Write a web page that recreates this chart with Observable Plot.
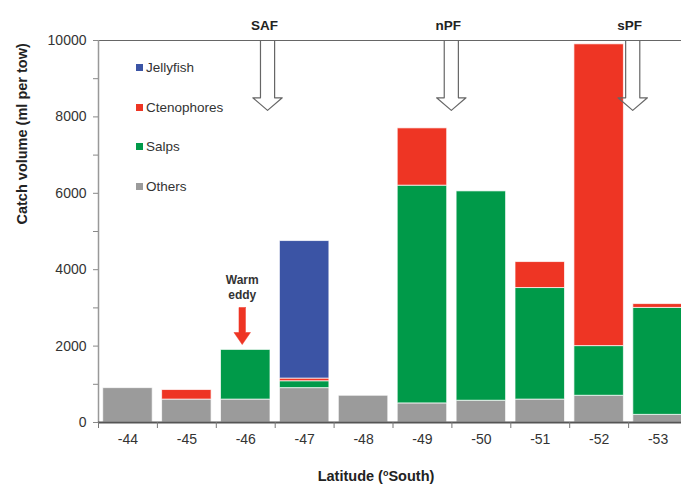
<!DOCTYPE html>
<html>
<head>
<meta charset="utf-8">
<script src="https://cdn.jsdelivr.net/npm/d3@7"></script>
<script src="https://cdn.jsdelivr.net/npm/@observablehq/plot@0.6"></script>
<style>
  html, body { margin: 0; padding: 0; background: #fff; overflow: hidden; }
  #wrap { position: relative; width: 681px; height: 485px; overflow: hidden; font-family: "Liberation Sans", Arial, sans-serif; }
  #wrap svg { max-width: none !important; }
  .leg { position: absolute; left: 136px; font-size: 13.5px; color: #333; line-height: 16px; white-space: nowrap; }
  .leg i { display: inline-block; width: 7px; height: 7px; margin-right: 3px; vertical-align: 1px; }
  #xlab { position: absolute; top: 468px; left: 0; width: 752px; text-align: center; font-weight: bold; font-size: 14.5px; color: #222; }
  #xlab sup { font-size: 9px; vertical-align: 5px; line-height: 0; }
</style>
</head>
<body>
<div id="wrap"></div>
<script>
// ---- data ----
const latitudes   = [-44, -45, -46, -47, -48, -49, -50, -51, -52, -53];
const others      = [900, 600, 600, 900, 700, 500, 570, 600, 700, 200];
const salps       = [0, 0, 1300, 180, 0, 5700, 5480, 2920, 1300, 2800];
const ctenophores = [0, 250, 0, 70, 0, 1500, 0, 680, 7900, 100];
const jellyfish   = [0, 0, 0, 3600, 0, 0, 0, 0, 0, 0];
const seriesNames = ["Others", "Salps", "Ctenophores", "Jellyfish"];
const seriesColors = ["#9b9b9b", "#009a49", "#ee3524", "#3b54a5"];
const legendOrder = ["Jellyfish", "Ctenophores", "Salps", "Others"];
const frontNames = ["SAF", "nPF", "sPF"];
const frontLats  = [-46.37, -49.49, -52.57];
const eddyLat = -45.94;
const yTicks = d3.range(0, 10001, 1000);

// ---- build stacked rows ----
const seriesValues = [others, salps, ctenophores, jellyfish];
const rows = [];
latitudes.forEach((lat, i) => {
  let base = 0;
  seriesValues.forEach((vals, s) => {
    const v = vals[i];
    if (v > 0) rows.push({lat, type: seriesNames[s], y1: base, y2: base + v});
    base += v;
  });
});
const edges = latitudes.map(l => l + 0.5).concat([latitudes[latitudes.length - 1] - 0.5]);

// arrow outlines (front markers) in data units
const frontArrows = [];
frontLats.forEach((lat, k) => {
  const sw = 0.12, hw = 0.25;
  [[lat - sw, 10000], [lat - sw, 8500], [lat - hw, 8500], [lat, 8170],
   [lat + hw, 8500], [lat + sw, 8500], [lat + sw, 10000]]
    .forEach(([x, y]) => frontArrows.push({k, x, y}));
});
const eddyArrow = [];
{
  const sw = 0.055, hw = 0.14, lat = eddyLat;
  [[lat - sw, 3010], [lat - sw, 2356], [lat - hw, 2356], [lat, 2040],
   [lat + hw, 2356], [lat + sw, 2356], [lat + sw, 3010], [lat - sw, 3010]]
    .forEach(([x, y]) => eddyArrow.push({x, y}));
}

const chart = Plot.plot({
  width: 687,
  height: 485,
  marginLeft: 98,
  marginRight: 0,
  marginTop: 40,
  marginBottom: 63,
  style: {fontFamily: "'Liberation Sans', Arial, sans-serif", fontSize: "14px", color: "#333", background: "white", maxWidth: "none"},
  x: {domain: [-43.5, -53.5], axis: null},
  y: {domain: [0, 10000], axis: null},
  color: {domain: seriesNames, range: seriesColors},
  marks: [
    Plot.rect(rows, {x1: d => d.lat + 0.42, x2: d => d.lat - 0.42, y1: "y1", y2: "y2", fill: "type",
      stroke: "#ffffff", strokeOpacity: 0.7, strokeWidth: 1}),
    Plot.ruleY([10000], {stroke: "#666", strokeWidth: 1.2}),
    Plot.ruleX([-43.5], {stroke: "#999", strokeWidth: 1.5}),
    Plot.ruleY([0], {stroke: "#555", strokeWidth: 1.8}),
    Plot.axisY({ticks: yTicks, tickSize: 5, tickPadding: 7, stroke: "#888",
      tickFormat: d => d % 2000 === 0 ? String(d) : "", label: null, fontSize: 14}),
    Plot.axisX({ticks: edges, tickSize: 6, tickFormat: () => "", label: null, stroke: "#777"}),
    Plot.axisX({ticks: latitudes, tickSize: 0, tickPadding: 12, tickFormat: d => "-" + Math.abs(d), label: null, fontSize: 14}),
    Plot.line(frontArrows, {x: "x", y: "y", z: "k", stroke: "#666", strokeWidth: 1.2, fill: "none"}),
    Plot.text(frontNames.map((n, i) => ({n, lat: frontLats[i]})), {x: "lat", text: "n", frameAnchor: "top", dy: -20, dx: -3,
      fontWeight: "bold", fontSize: 13.5, fill: "#222"}),
    Plot.line(eddyArrow, {x: "x", y: "y", fill: "#ee3524", stroke: "#ee3524", strokeWidth: 0.5}),
    Plot.text([{t: "Warm\neddy", x: eddyLat, y: 3560}], {x: "x", y: "y", text: "t", fontWeight: "bold", fontSize: 12,
      lineHeight: 1.3, fill: "#333"}),
    Plot.text([{t: "Catch volume (ml per tow)"}], {text: "t", frameAnchor: "left", rotate: -90, dx: -76, dy: -7,
      fontWeight: "bold", fontSize: 14.5, fill: "#222"})
  ]
});
chart.style.maxWidth = "none";
const wrap = document.getElementById("wrap");
wrap.appendChild(chart);

// legend
const legY = [68, 107.7, 147.3, 186.7];
legendOrder.forEach((name, i) => {
  const d = document.createElement("div");
  d.className = "leg";
  d.style.top = (legY[i] - 8) + "px";
  d.innerHTML = `<i style="background:${seriesColors[seriesNames.indexOf(name)]}"></i>${name}`;
  wrap.appendChild(d);
});
const xl = document.createElement("div");
xl.id = "xlab";
xl.innerHTML = "Latitude (<sup>o</sup>South)";
wrap.appendChild(xl);
</script>
</body>
</html>
